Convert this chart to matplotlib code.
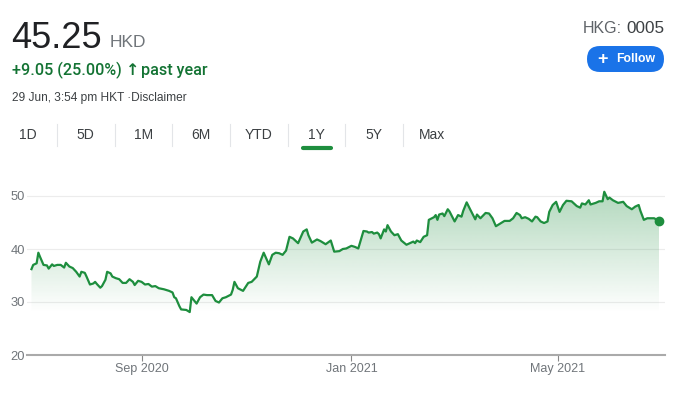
import datetime as dt
import numpy as np
import matplotlib
matplotlib.use("Agg")
import matplotlib.pyplot as plt
import matplotlib.dates as mdates
from matplotlib.patches import FancyBboxPatch, Polygon

# ---------------- data ----------------
start_date = dt.date(2020, 6, 29)
# days since start_date
day_offsets = [0, 1, 3, 4, 5, 7, 9, 10, 12, 13, 15, 17, 19, 20, 22, 24, 26, 28, 29, 31,
               32, 34, 36, 37, 38, 40, 41, 43, 44, 46, 47, 49, 51, 53, 55, 57, 59, 60, 62, 64,
               66, 68, 70, 72, 74, 77, 80, 82, 83, 84, 86, 87, 90, 92, 93, 95, 96, 98, 100, 102,
               105, 107, 109, 111, 113, 116, 117, 118, 120, 123, 126, 128, 131, 133, 135, 138, 140, 142, 144, 146,
               148, 150, 152, 155, 158, 160, 161, 163, 166, 168, 171, 174, 176, 179, 181, 183, 186, 188, 190, 193,
               195, 196, 198, 199, 201, 202, 203, 205, 206, 207, 209, 211, 213, 215, 218, 220, 222, 223, 224, 226,
               228, 230, 231, 234, 235, 236, 237, 239, 240, 242, 243, 246, 248, 250, 251, 253, 255, 258, 259, 261,
               264, 266, 268, 270, 272, 275, 278, 280, 282, 284, 285, 287, 289, 291, 293, 294, 296, 298, 300, 301,
               303, 305, 307, 309, 311, 314, 317, 319, 320, 322, 324, 325, 328, 330, 332, 333, 335, 336, 338, 341,
               344, 346, 349, 351, 353, 354, 356, 358, 361, 362, 365]
prices = [36.2, 37.0, 37.3, 39.3, 38.5, 37.0, 36.9, 36.3, 37.1, 36.8, 37.0, 37.0, 36.5, 37.4, 36.7, 36.4, 35.7, 34.8, 35.7, 35.5,
          34.8, 33.3, 33.5, 33.8, 33.4, 32.7, 33.0, 34.2, 35.7, 35.4, 34.8, 34.5, 34.3, 33.6, 33.6, 34.3, 33.8, 33.2, 34.0, 33.8,
          33.3, 33.4, 32.9, 33.0, 32.6, 32.4, 32.1, 31.8, 30.9, 30.7, 29.2, 28.6, 28.5, 28.1, 30.9, 30.1, 29.7, 30.9, 31.4, 31.3,
          31.3, 30.2, 29.9, 30.7, 30.9, 31.4, 32.3, 33.8, 32.6, 32.1, 33.6, 33.8, 34.8, 37.6, 39.3, 37.1, 38.9, 39.3, 39.2, 38.9,
          39.7, 42.3, 42.0, 41.1, 43.3, 43.7, 42.6, 41.2, 41.8, 41.5, 40.9, 41.6, 39.5, 39.6, 40.0, 40.1, 40.6, 40.4, 40.1, 43.4,
          43.3, 43.1, 43.2, 42.9, 43.1, 42.8, 42.0, 43.7, 43.3, 44.5, 43.3, 42.6, 42.8, 41.6, 40.8, 41.1, 41.4, 41.1, 41.6, 41.3,
          42.3, 42.6, 45.5, 46.0, 46.4, 45.5, 46.5, 46.7, 46.2, 47.5, 47.1, 45.2, 46.4, 46.1, 47.2, 48.8, 47.5, 45.6, 46.5, 45.8,
          46.8, 46.7, 45.8, 44.3, 44.7, 45.3, 45.3, 45.8, 46.8, 46.4, 45.8, 46.0, 45.7, 45.2, 46.1, 46.0, 45.2, 44.9, 45.2, 47.0,
          48.3, 48.9, 47.0, 48.3, 49.1, 49.0, 48.1, 47.8, 48.6, 48.4, 49.2, 48.4, 48.7, 49.0, 49.0, 50.8, 49.4, 49.7, 49.2, 48.7,
          48.9, 48.1, 47.5, 48.0, 48.3, 47.2, 45.5, 45.8, 45.8, 45.8, 45.25]

y_ticks = [20, 30, 40, 50]
x_tick_dates = ["2020-09-01", "2021-01-01", "2021-05-01"]
x_tick_labels = ["Sep 2020", "Jan 2021", "May 2021"]
tabs = ["1D", "5D", "1M", "6M", "YTD", "1Y", "5Y", "Max"]
selected_tab = "1Y"

price_text = "45.25"
currency = "HKD"
change_text = "+9.05 (25.00%)"
period_text = "past year"
timestamp_text = "29 Jun, 3:54 pm HKT \u00b7Disclaimer"
exchange = "HKG:"
ticker = "0005"

# ---------------- style ----------------
GREEN_LINE = "#1e8e3e"
GREEN_TEXT = "#137333"
GRAY = "#70757a"
DARK = "#202124"
FONT = ["Liberation Sans", "DejaVu Sans"]
plt.rcParams["font.family"] = FONT

W, H = 696, 398
fig = plt.figure(figsize=(W / 100, H / 100), dpi=100)
fig.patch.set_facecolor("white")

# overlay axes in pixel coordinates for header elements
ov = fig.add_axes([0, 0, 1, 1], zorder=0)
ov.set_xlim(0, W)
ov.set_ylim(H, 0)
ov.axis("off")

ov.text(11, 48, price_text, fontsize=26, color=DARK, va="baseline", ha="left")
ov.text(110, 47, currency, fontsize=12.5, color=GRAY, va="baseline", ha="left")
ov.text(12, 75, change_text, fontsize=11.6, color=GREEN_TEXT, va="baseline", ha="left",
        family=["Roboto", "DejaVu Sans"], fontweight="medium")
ov.text(126, 75, "\u2191", fontsize=11.5, color=GREEN_TEXT, va="baseline", ha="left",
        fontweight="bold", family=["DejaVu Sans"])
ov.text(141, 75, period_text, fontsize=11.6, color=GREEN_TEXT, va="baseline", ha="left",
        family=["Roboto", "DejaVu Sans"], fontweight="medium")
ov.text(12, 101, timestamp_text, fontsize=8.6, color="#3c4043", va="baseline", ha="left")

ov.text(622, 33, exchange, fontsize=11.5, color="#5f6368", va="baseline", ha="right")
ov.text(664, 33, ticker, fontsize=12.3, color="#3c4043", va="baseline", ha="right")
btn = FancyBboxPatch((587, 46), 77, 26, boxstyle="round,pad=0,rounding_size=13",
                     facecolor="#1a73e8", edgecolor="none")
ov.add_patch(btn)
ov.text(602, 59.5, "+", fontsize=13, color="white", va="center", ha="center", fontweight="bold")
ov.text(616, 59.5, "Follow", fontsize=8.8, color="white", va="center", ha="left", fontweight="bold")

# tabs
tab_step = 57.7
tab_x0 = 28
for i, t in enumerate(tabs):
    cx = tab_x0 + i * tab_step
    ov.text(cx, 135, t, fontsize=10, color="#3c4043", va="center", ha="center")
    if i < len(tabs) - 1:
        sx = cx + tab_step / 2
        ov.plot([sx, sx], [124, 146], color="#e3e5e8", lw=0.8)
    if t == selected_tab:
        ov.plot([cx - 14, cx + 14], [147.5, 147.5], color=GREEN_LINE, lw=3, solid_capstyle="round")

# ---------------- chart ----------------
dates = [start_date + dt.timedelta(days=d) for d in day_offsets]
x = mdates.date2num(dates)
y = np.array(prices)

ax = fig.add_axes([27 / W, (H - 355) / H, 638 / W, (355 - 185.4) / H], zorder=1)
ax.set_facecolor("none")
x0 = mdates.date2num(start_date) - 2.6
x1 = mdates.date2num(start_date) + 368.3
ax.set_xlim(x0, x1)
ax.set_ylim(20, 52)

# gradient fill under line
ytop, ybot = 52.0, 28.0
grad = np.linspace(1, 0, 256).reshape(-1, 1)
rgba = np.zeros((256, 1, 4))
rgba[..., 0], rgba[..., 1], rgba[..., 2] = matplotlib.colors.to_rgb(GREEN_LINE)
rgba[..., 3] = 0.36 * grad[:, :]
img = ax.imshow(rgba, extent=[x[0], x[-1], ybot, ytop], aspect="auto", origin="upper", zorder=1)
verts = np.column_stack([np.concatenate([x, [x[-1], x[0]]]), np.concatenate([y, [20, 20]])])
poly = Polygon(verts, closed=True, facecolor="none", edgecolor="none", transform=ax.transData)
ax.add_patch(poly)
img.set_clip_path(poly)

ax.plot(x, y, color=GREEN_LINE, lw=1.6, zorder=3, solid_joinstyle="round")
ax.plot([x[-1]], [y[-1]], "o", color=GREEN_LINE, ms=6, zorder=4)

for s in ["top", "right", "left"]:
    ax.spines[s].set_visible(False)
ax.spines["bottom"].set_color("#aaaaaa")
ax.spines["bottom"].set_linewidth(1.5)

ax.set_yticks(y_ticks)
ax.set_yticklabels([str(v) for v in y_ticks])
ax.tick_params(axis="y", length=0, pad=1.5, labelsize=9.3, labelcolor=GRAY)
ax.yaxis.grid(True, color="#ececec", lw=0.8)
ax.set_axisbelow(True)

ax.set_xticks(mdates.date2num([dt.date.fromisoformat(d) for d in x_tick_dates]))
ax.set_xticklabels(x_tick_labels)
ax.tick_params(axis="x", length=4, width=0.8, color="#888888", pad=2, labelsize=9, labelcolor=GRAY)

fig.savefig("out.png", dpi=100, facecolor="white")
